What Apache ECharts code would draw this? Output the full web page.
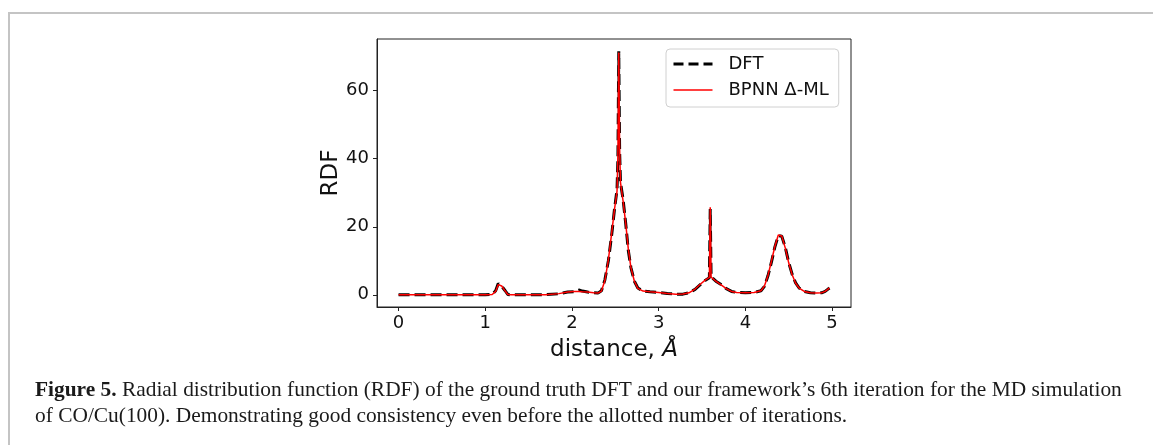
<!DOCTYPE html>
<html>

<head>
    <meta charset="utf-8">
    <title>RDF CO/Cu(100)</title>
    <script src="https://cdn.jsdelivr.net/npm/echarts@6.0.0/dist/echarts.min.js"></script>
    <style>
        html, body { margin: 0; padding: 0; background: #fff; }
        #main { width: 1153px; height: 445px; }
    </style>
</head>

<body>
    <div id="main"></div>

    <script>
        // values (distance in Å, RDF)
        var distance = [0, 0.2, 0.4, 0.6, 0.8, 1.0, 1.08, 1.12, 1.15, 1.17, 1.19, 1.21, 1.23, 1.26, 1.3, 1.5,
            1.7, 1.85, 1.95, 2.02, 2.08, 2.12, 2.18, 2.25, 2.3, 2.34, 2.38, 2.42, 2.46, 2.49, 2.52, 2.53,
            2.54, 2.55, 2.56, 2.59, 2.62, 2.65, 2.68, 2.72, 2.76, 2.82, 2.9, 3.0, 3.1, 3.2, 3.28, 3.35,
            3.42, 3.48, 3.54, 3.585, 3.595, 3.605, 3.62, 3.66, 3.72, 3.78, 3.84, 3.9, 4.0, 4.1, 4.18, 4.22,
            4.26, 4.3, 4.34, 4.38, 4.4, 4.42, 4.46, 4.5, 4.54, 4.58, 4.62, 4.68, 4.75, 4.82, 4.88, 4.92,
            4.95, 4.97];
        var rdfDft = [0, 0, 0, 0, 0, 0, 0.1, 1.2, 3.3, 3.5, 2.5, 3.0, 1.2, 0.1, 0, 0,
            0.05, 0.3, 0.8, 0.9, 1.4, 1.1, 0.8, 0.6, 0.5, 1.2, 4.4, 10, 18, 25, 31, 40,
            71.6, 42, 33, 28, 21, 13, 8, 4, 2, 1.1, 0.9, 0.7, 0.4, 0.2, 0.2, 0.6,
            1.6, 3.0, 4.3, 5.0, 25.2, 5.3, 4.8, 4.0, 3.0, 1.8, 1.0, 0.7, 0.6, 0.7, 1.2, 2.5,
            5.5, 9.5, 14.0, 17.4, 17.8, 17.2, 14.0, 9.5, 6.0, 3.5, 2.0, 1.0, 0.6, 0.5, 0.6, 1.0,
            1.6, 2.0];
        var rdfBpnn = [0, 0, 0, 0, 0, 0, 0.1, 1.0, 3.0, 3.4, 2.6, 2.8, 1.1, 0.1, 0, 0,
            0.05, 0.35, 0.85, 1.0, 1.0, 0.9, 0.8, 0.6, 0.5, 1.1, 4.2, 10.3, 18.5, 25, 30.5, 41,
            71.2, 43, 33, 27.5, 21, 13.5, 8, 4, 1.9, 1.1, 0.9, 0.7, 0.4, 0.2, 0.25, 0.6,
            1.7, 3.1, 4.4, 5.1, 25.7, 5.2, 4.7, 4.0, 2.9, 1.8, 1.0, 0.7, 0.6, 0.7, 1.2, 2.6,
            5.6, 9.8, 14.2, 17.6, 17.9, 17.3, 13.8, 9.4, 5.9, 3.4, 2.0, 1.0, 0.6, 0.5, 0.6, 1.0,
            1.6, 2.1];
        var xTicks = [0, 1, 2, 3, 4, 5];
        var yTicks = [0, 20, 40, 60];

        var line1 = 'Radial distribution function (RDF) of the ground truth DFT and our framework\u2019s 6th iteration for the MD simulation';
        var line2 = 'of CO/Cu(100). Demonstrating good consistency even before the allotted number of iterations.';

        // caption size: fit first line to the width it has in the figure
        var ctx = document.createElement('canvas').getContext('2d');
        ctx.font = 'bold 20px "Liberation Serif"';
        var w = ctx.measureText('Figure 5.').width;
        ctx.font = '20px "Liberation Serif"';
        w += ctx.measureText(' ' + line1).width;
        var capSize = Math.round(20 * 1088 / w * 10) / 10;

        var sans = 'DejaVu Sans';
        var myChart = echarts.init(document.getElementById('main'));

        var option = {
            animation: false,
            backgroundColor: '#fff',
            grid: {
                left: 377,
                right: 302,
                top: 39,
                bottom: 138,
                show: true,
                borderColor: '#222',
                borderWidth: 1
            },
            legend: {
                orient: 'vertical',
                left: 666,
                top: 49,
                padding: [6, 10, 8, 6],
                itemWidth: 39,
                itemHeight: 20,
                itemGap: 8,
                borderColor: '#d0d0d0',
                borderWidth: 1,
                borderRadius: 4,
                backgroundColor: 'rgba(255,255,255,0.8)',
                itemStyle: { opacity: 0 },
                textStyle: {
                    fontFamily: sans,
                    fontSize: 18,
                    color: '#111',
                    padding: [0, 0, 0, 11]
                },
                data: [{
                        name: 'DFT',
                        lineStyle: { color: '#000', width: 3, type: [10, 5] }
                    },
                    {
                        name: 'BPNN \u0394-ML',
                        lineStyle: { color: '#ff0000', width: 1.5 }
                    }
                ]
            },
            xAxis: {
                type: 'value',
                min: -0.2485,
                max: 5.2185,
                name: 'distance, {i|\u00c5}',
                nameLocation: 'middle',
                nameGap: 32,
                nameTextStyle: {
                    fontFamily: sans,
                    fontSize: 23,
                    color: '#111',
                    rich: {
                        i: { fontFamily: sans, fontSize: 23, fontStyle: 'italic', color: '#111' }
                    }
                },
                axisLine: { show: true, onZero: false, lineStyle: { color: '#222', width: 1 } },
                axisTick: { show: true, length: 4, customValues: xTicks, lineStyle: { color: '#222' } },
                axisLabel: { customValues: xTicks, margin: 7, fontFamily: sans, fontSize: 18, color: '#111' },
                splitLine: { show: false }
            },
            yAxis: {
                type: 'value',
                min: -3.58,
                max: 75.18,
                name: 'RDF',
                nameLocation: 'middle',
                nameGap: 33,
                nameTextStyle: { fontFamily: sans, fontSize: 23, color: '#111' },
                axisLine: { show: true, onZero: false, lineStyle: { color: '#222', width: 1 } },
                axisTick: { show: true, length: 4, customValues: yTicks, lineStyle: { color: '#222' } },
                axisLabel: { customValues: yTicks, margin: 8, fontFamily: sans, fontSize: 18, color: '#111' },
                splitLine: { show: false }
            },
            series: [{
                    name: 'DFT',
                    type: 'line',
                    symbol: 'none',
                    z: 2,
                    data: distance.map(function (d, i) { return [d, rdfDft[i]]; }),
                    lineStyle: { color: '#000', width: 3, type: [11, 5] },
                    itemStyle: { color: '#000' }
                },
                {
                    name: 'BPNN \u0394-ML',
                    type: 'line',
                    symbol: 'none',
                    z: 3,
                    data: distance.map(function (d, i) { return [d, rdfBpnn[i]]; }),
                    lineStyle: { color: '#ff0000', width: 1.5 },
                    itemStyle: { color: '#ff0000' }
                }
            ],
            graphic: [{
                    // page frame
                    type: 'polyline',
                    silent: true,
                    shape: { points: [[9, 445], [9, 13], [1153, 13]] },
                    style: { stroke: '#c4c4c4', lineWidth: 2, fill: null }
                },
                {
                    type: 'text',
                    left: 35,
                    top: 380,
                    style: {
                        text: '{b|Figure 5.} ' + line1,
                        font: capSize + 'px "Liberation Serif"',
                        fill: '#1a1a1a',
                        rich: {
                            b: { fontFamily: 'Liberation Serif', fontSize: capSize, fontWeight: 'bold', fill: '#1a1a1a' }
                        }
                    }
                },
                {
                    type: 'text',
                    left: 35,
                    top: 406,
                    style: {
                        text: line2,
                        font: capSize + 'px "Liberation Serif"',
                        fill: '#1a1a1a'
                    }
                }
            ]
        };
        myChart.setOption(option);
    </script>
</body>

</html>
